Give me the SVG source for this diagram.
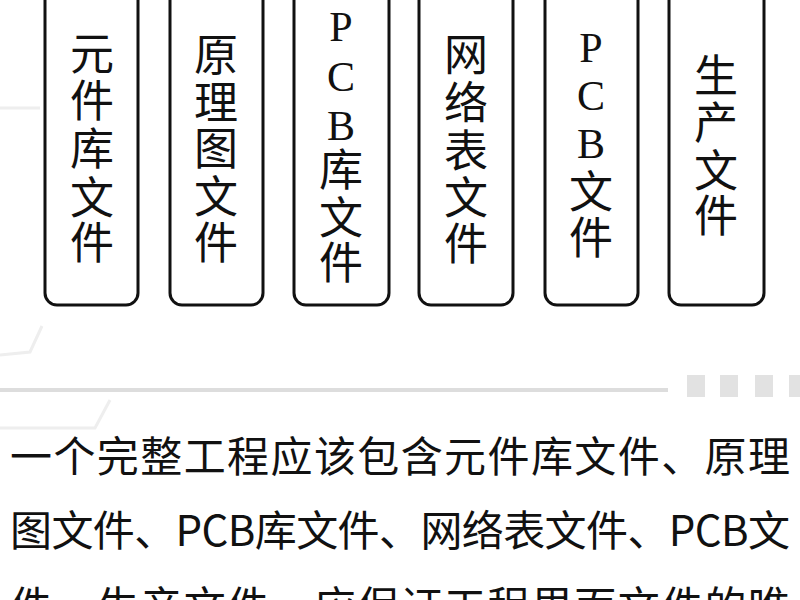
<svg xmlns="http://www.w3.org/2000/svg" width="800" height="600" viewBox="0 0 800 600">
<style>
.box{fill:#ffffff;stroke:#111111;stroke-width:3}
.cj{font-family:"Noto Sans CJK SC","Noto Sans CJK JP",sans-serif;font-size:44px;fill:#111;text-anchor:middle;dominant-baseline:central}
.lt{font-family:"Liberation Serif","Noto Sans CJK SC",serif;font-size:42px;fill:#111;text-anchor:middle}
.para{font-family:"Noto Sans CJK SC","Noto Sans CJK JP",sans-serif;font-size:42px;fill:#111}
.deco{fill:none;stroke:#eeeeee;stroke-width:3}
.sq{fill:#e2e2e2}
</style>
<rect width="800" height="600" fill="#ffffff"/>
<g id="background">
<path class="deco" d="M0 108 H40"/>
<path class="deco" d="M0 355 L30 352 L42 326"/>
<path class="deco" d="M0 428 H95 L110 400"/>
<line x1="0" y1="390" x2="668" y2="390" stroke="#dddddd" stroke-width="4"/>
<rect class="sq" x="687" y="375" width="18" height="22"/>
<rect class="sq" x="720" y="375" width="18" height="22"/>
<rect class="sq" x="755" y="375" width="18" height="22"/>
<rect class="sq" x="789" y="375" width="18" height="22"/>
</g>
<g id="node-yuanjianku">
<rect class="box" x="45" y="-20" width="93" height="325" rx="12"/>
<text class="cj" x="92" y="51">元</text>
<text class="cj" x="92" y="98">件</text>
<text class="cj" x="92" y="146">库</text>
<text class="cj" x="92" y="195">文</text>
<text class="cj" x="92" y="240">件</text>
</g>
<g id="node-yuanlitu">
<rect class="box" x="170" y="-20" width="93" height="325" rx="12"/>
<text class="cj" x="216" y="52">原</text>
<text class="cj" x="216" y="100">理</text>
<text class="cj" x="216" y="146">图</text>
<text class="cj" x="216" y="194">文</text>
<text class="cj" x="216" y="240">件</text>
</g>
<g id="node-pcbku">
<rect class="box" x="294" y="-20" width="95" height="325" rx="12"/>
<text class="lt" x="341" y="41">P</text>
<text class="lt" x="341" y="91">C</text>
<text class="lt" x="341" y="140">B</text>
<text class="cj" x="341" y="167">库</text>
<text class="cj" x="341" y="215">文</text>
<text class="cj" x="341" y="260">件</text>
</g>
<g id="node-wangluobiao">
<rect class="box" x="419" y="-20" width="94" height="325" rx="12"/>
<text class="cj" x="466" y="52">网</text>
<text class="cj" x="466" y="100">络</text>
<text class="cj" x="466" y="148">表</text>
<text class="cj" x="466" y="195">文</text>
<text class="cj" x="466" y="241">件</text>
</g>
<g id="node-pcb">
<rect class="box" x="545" y="-20" width="93" height="325" rx="12"/>
<text class="lt" x="591" y="62">P</text>
<text class="lt" x="591" y="110">C</text>
<text class="lt" x="591" y="158">B</text>
<text class="cj" x="591" y="189">文</text>
<text class="cj" x="591" y="235">件</text>
</g>
<g id="node-shengchan">
<rect class="box" x="669" y="-20" width="95" height="325" rx="12"/>
<text class="cj" x="716" y="73">生</text>
<text class="cj" x="716" y="120">产</text>
<text class="cj" x="716" y="168">文</text>
<text class="cj" x="716" y="213">件</text>
</g>
<g id="connectors"/>
<g id="paragraph">
<text class="para" x="10" y="472" textLength="780" lengthAdjust="spacing">一个完整工程应该包含元件库文件、原理</text>
<text class="para" x="10" y="546" textLength="780" lengthAdjust="spacing">图文件、PCB库文件、网络表文件、PCB文</text>
<text class="para" x="10" y="622" textLength="780" lengthAdjust="spacing">件、生产文件，应保证工程里面文件的唯</text>
</g>
</svg>
